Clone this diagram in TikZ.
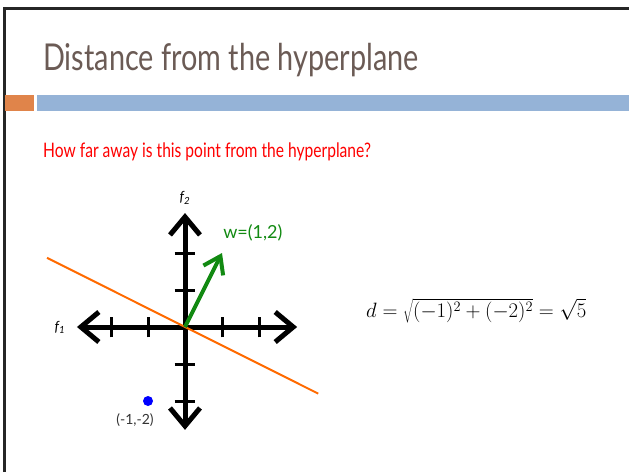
\documentclass[tikz,border=0pt]{standalone}
\usepackage{fontspec}
\setmainfont{Lato}
\newfontfamily\slidefont[FakeStretch=0.78]{Lato}
\usetikzlibrary{arrows.meta}
\definecolor{titlegray}{HTML}{6B5B55}
\definecolor{barorange}{HTML}{E0844A}
\definecolor{barblue}{HTML}{95B3D7}
\definecolor{vecgreen}{HTML}{128A12}
\definecolor{planeorange}{HTML}{FF6A00}
\begin{document}
\begin{tikzpicture}[x=1pt,y=-1pt,
    axtip/.tip={Straight Barb[length=18pt,width=30pt,line width=5pt]},
    vectip/.tip={Straight Barb[length=16pt,width=22pt,line width=4pt]},
    axis/.style={line width=5pt,axtip-axtip},
    tick/.style={line width=3pt},
    lbl/.style={inner sep=0pt,font=\itshape\fontsize{14}{15}\selectfont}]
  \useasboundingbox (0,0) rectangle (629,472);
  % slide frame and bars
  \draw[line width=3pt,black!85] (4,472) -- (4,8) -- (629,8);
  \fill[barorange] (5,95) rectangle (34,111);
  \fill[barblue] (37,95) rectangle (629,111);
  \node[anchor=base west,inner sep=0pt,text=titlegray,
    font=\slidefont\fontsize{37}{40}\selectfont] (title) at (43,70)
    {Distance from the hyperplane};
  \node[anchor=base west,inner sep=0pt,text=red,
    font=\slidefont\fontsize{20}{22}\selectfont] (question) at (43,157)
    {How far away is this point from the hyperplane?};
  \node[anchor=base west,inner sep=0pt,font=\fontsize{20}{22}\selectfont] (dist) at (366,317)
    {$d = \sqrt{(-1)^2+(-2)^2} = \sqrt{5}$};
  % feature space
  \begin{scope}[shift={(185,327)},x=37pt,y=37pt]
    \coordinate (o) at (0,0);
    \coordinate (xl) at (-2.92,0);
    \coordinate (xr) at (3.03,0);
    \coordinate (yt) at (0,3.08);
    \coordinate (yb) at (0,-2.78);
    \coordinate (pl) at (-3.73,1.87);
    \coordinate (pr) at (3.6,-1.8);
    \coordinate (wtip) at (1,2);
    \draw[axis] (xl) -- (xr);
    \draw[axis] (yb) -- (yt);
    \foreach \t in {-2,-1,1,2} {
      \draw[tick] (\t,-0.28) -- (\t,0.28);
      \draw[tick] (-0.28,\t) -- (0.28,\t);
    }
    \draw[planeorange,line width=2pt] (pl) -- (pr);
    \draw[vecgreen,line width=4pt,-vectip] (o) -- (wtip);
    \node[lbl] (f1) at (-3.38,0) {f\textsubscript{1}};
    \node[lbl] (f2) at (0,3.49) {f\textsubscript{2}};
    \node[anchor=west,inner sep=0pt,text=vecgreen,
      font=\fontsize{18}{19}\selectfont] (wlbl) at (1.03,2.54) {w=(1,2)};
    \node[circle,fill=blue,inner sep=0pt,minimum size=10pt] (pt) at (-1,-2) {};
    \node[inner sep=0pt,text=black!80,font=\fontsize{14}{15}\selectfont]
      (ptlbl) at (-1.35,-2.51) {(-1,-2)};
  \end{scope}
\end{tikzpicture}
\end{document}
